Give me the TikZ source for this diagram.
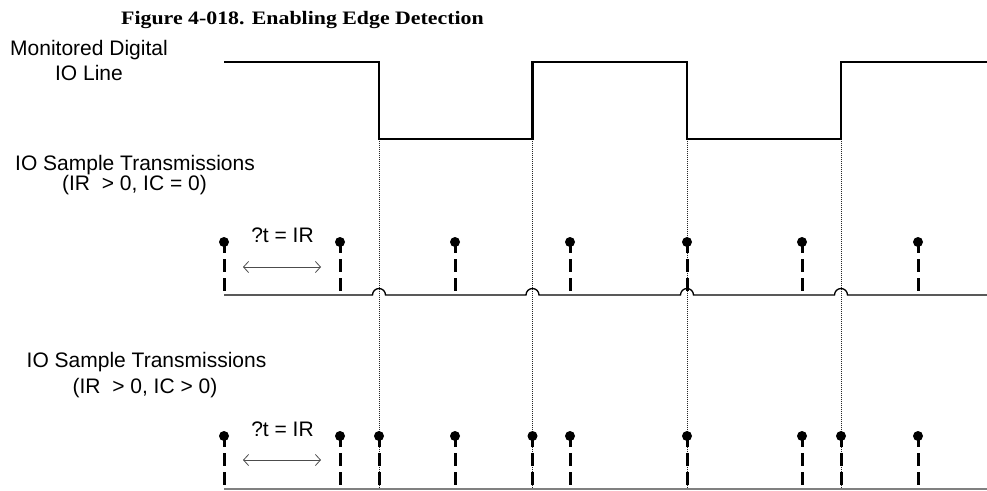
\documentclass[tikz,border=0pt]{standalone}
\usepackage{fontspec}
\setmainfont{Liberation Sans}
\newfontfamily\titlefont{Liberation Serif}
\usetikzlibrary{arrows.meta}
\begin{document}
\begin{tikzpicture}[x=1pt,y=-1pt,
  signal/.style={line width=2.6pt, line join=miter},
  guide/.style={line width=0.8pt, draw=black!85, dash pattern=on 1pt off 1pt},
  axis/.style={line width=1.3pt},
  stem/.style={line width=3pt, dash pattern=on 11pt off 6pt on 13pt off 6pt on 13pt off 30pt},
  dot/.style={circle, fill, inner sep=0pt, minimum size=10pt},
  lbl/.style={font=\fontsize{21}{25}\selectfont, anchor=base, inner sep=0pt},
  span/.style={{Straight Barb[length=5pt,width=11pt]}-{Straight Barb[length=5pt,width=11pt]}, line width=0.8pt, draw=black!70},
]
\path[use as bounding box] (0,0) rectangle (987,490);

% levels and edge positions
\coordinate (hi) at (0,62);
\coordinate (lo) at (0,139);
\coordinate (midbase) at (0,295);
\coordinate (midtip) at (0,291);
\coordinate (botbase) at (0,489);
\coordinate (bottip) at (0,485);
\coordinate (floor) at (0,490);
\coordinate (start) at (224,62);
\coordinate (stop) at (987,0);
\coordinate (e1) at (379,0);
\coordinate (e2) at (532.5,0);
\coordinate (e3) at (687,0);
\coordinate (e4) at (841,0);

% title and labels
\node[anchor=base, inner sep=0pt] (title) at (302.5,24)
  {\scalebox{1.15}[1]{\titlefont\bfseries\fontsize{19}{22}\selectfont Figure 4-018. Enabling Edge Detection}};
\node[lbl] (lineA) at (89,55) {Monitored Digital};
\node[lbl] (lineB) at (89,80) {IO Line};
\node[lbl] (txA) at (135,170) {IO Sample Transmissions};
\node[lbl] (txB) at (134.5,190) {(IR\ \ > 0, IC = 0)};
\node[lbl] (tyA) at (146.5,367) {IO Sample Transmissions};
\node[lbl] (tyB) at (145,393) {(IR\ \ > 0, IC > 0)};

% monitored digital line
\draw[signal] (start) -- (e1|-hi) -- (e1|-lo) -- (e2|-lo) -- (e2|-hi)
  -- (e3|-hi) -- (e3|-lo) -- (e4|-lo) -- (e4|-hi) -- (stop|-hi);

% dotted guides at each edge
\foreach \e in {e1,e2,e3,e4}
  \draw[guide] ([yshift=-1.5pt]\e|-lo) -- (\e|-floor);

% periodic samples: baseline with hops over the guides
\draw[axis] (start|-midbase)
  -- ([xshift=-6.5pt]e1|-midbase) arc[start angle=180,end angle=360,radius=6.5]
  -- ([xshift=-6.5pt]e2|-midbase) arc[start angle=180,end angle=360,radius=6.5]
  -- ([xshift=-6.5pt]e3|-midbase) arc[start angle=180,end angle=360,radius=6.5]
  -- ([xshift=-6.5pt]e4|-midbase) arc[start angle=180,end angle=360,radius=6.5]
  -- (stop|-midbase);
\foreach \x [count=\i] in {224,340,455,570,687,802,918} {
  \node[dot] (m\i) at (\x,242) {};
  \draw[stem] (m\i.center) -- (m\i.center|-midtip);
}
\coordinate (pa) at (243,267);
\coordinate (pb) at (321,267);
\draw[span] (pa) -- (pb);
\node[lbl] (dtA) at (282.5,242) {?t = IR};

% periodic plus change-detect samples
\draw[axis, draw=black!50] (start|-botbase) -- (stop|-botbase);
\foreach \x [count=\i] in {224,340,379,455,532.5,570,687,802,841,918} {
  \node[dot] (c\i) at (\x,436) {};
  \draw[stem] (c\i.center) -- (c\i.center|-bottip);
}
\coordinate (qa) at (243,460);
\coordinate (qb) at (321,460);
\draw[span] (qa) -- (qb);
\node[lbl] (dtB) at (282.5,436.5) {?t = IR};
\end{tikzpicture}
\end{document}
